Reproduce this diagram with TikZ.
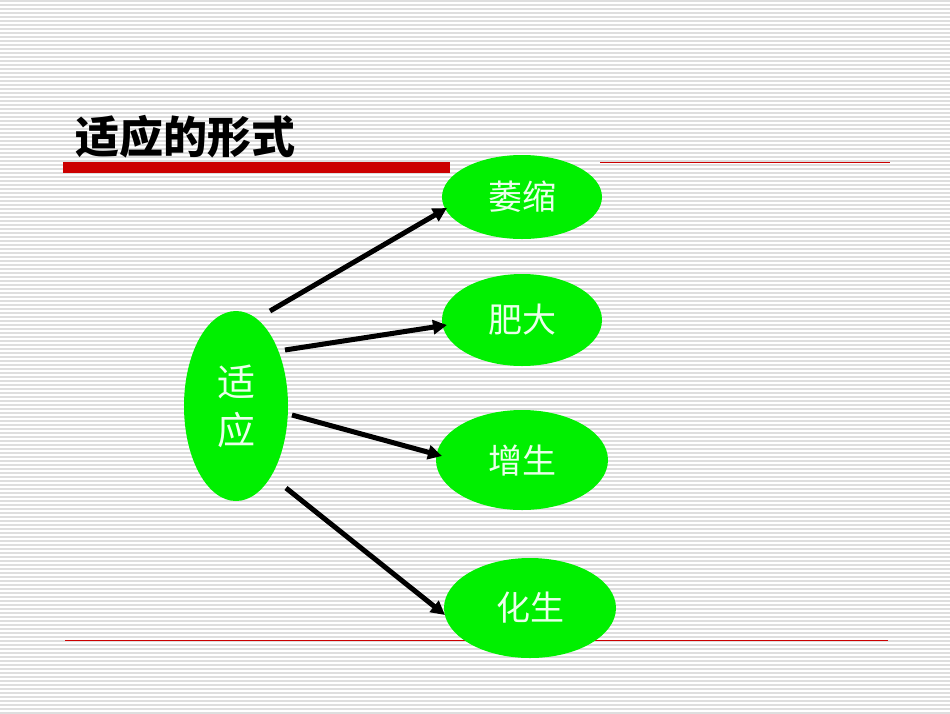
\documentclass[tikz,border=0pt]{standalone}
\usepackage{fontspec}
\newfontfamily\cjk{Noto Sans CJK SC}
\usetikzlibrary{arrows.meta,shapes.geometric}
\definecolor{gr}{RGB}{0,240,0}
\begin{document}
\begin{tikzpicture}[x=1pt,y=-1pt,
  ell/.style={ellipse,fill=gr,text=white!92!green,font=\cjk\fontsize{34}{36}\selectfont,inner sep=0pt},
  arr/.style={line width=5pt,-{Triangle[length=14pt,width=14pt]}}]
\useasboundingbox (0,0) rectangle (950,713);
\fill[white] (0,0) rectangle (950,713);
\foreach \y in {1,5,...,713} \draw[black!13,line width=1.2pt] (0,\y) -- (950,\y);
\node[anchor=base west,font=\cjk\bfseries\fontsize{44}{46}\selectfont] (t) at (72,153) {适应的形式};
\fill[red!80!black] (63,162) rectangle (450,173);
\draw[red!80!black,line width=0.6pt] (600,162) -- (890,162);
\draw[red!80!black,line width=0.6pt] (65,640) -- (888,640);
\node[ell,minimum width=160,minimum height=84] (a) at (522,197) {萎缩};
\node[ell,minimum width=160,minimum height=92] (b) at (522,320) {肥大};
\node[ell,minimum width=172,minimum height=100] (c) at (522,460) {增生};
\node[ell,minimum width=172,minimum height=100] (d) at (530,608) {化生};
\node[ell,minimum width=104,minimum height=190,align=center,font=\cjk\fontsize{38}{48}\selectfont] (s) at (236,406) {适\\应};
\coordinate (s1) at (270,311); \coordinate (s2) at (285,350);
\coordinate (s3) at (292,415); \coordinate (s4) at (286,488);
\draw[arr] (s1) -- (447,208);
\draw[arr] (s2) -- (447,325);
\draw[arr] (s3) -- (442,456);
\draw[arr] (s4) -- (445,615);
\end{tikzpicture}
\end{document}
